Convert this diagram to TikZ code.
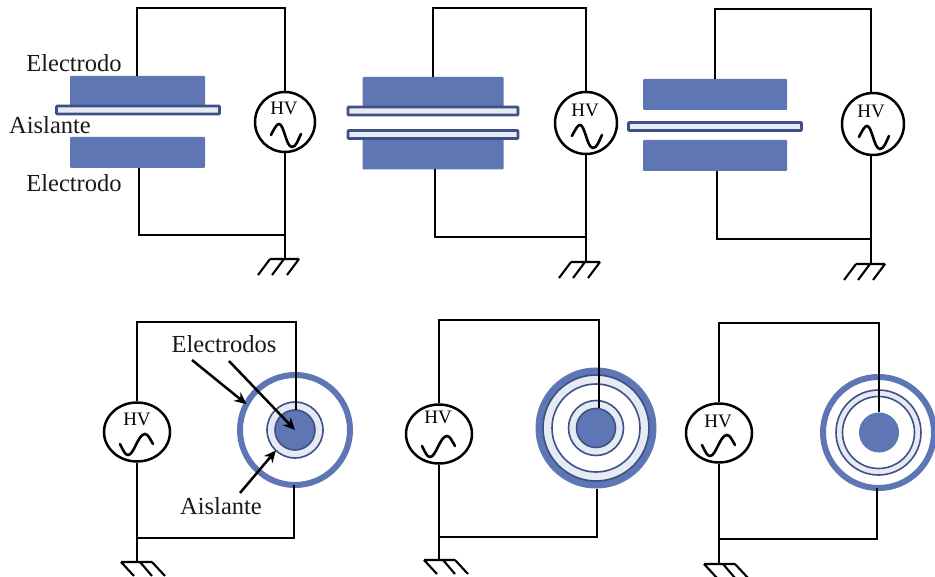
\documentclass[tikz,border=0pt]{standalone}
\usepackage{fontspec}
\setmainfont{Liberation Serif}
\usetikzlibrary{shapes.geometric,arrows.meta,calc}
\definecolor{elecblue}{HTML}{5F76B5}
\definecolor{insedge}{HTML}{3F5088}
\definecolor{insfill}{HTML}{E6EAF2}
\tikzset{
  wire/.style={draw=black,line width=2.1pt},
  elec/.style={rectangle,rounded corners=1pt,fill=elecblue,inner sep=0pt,outer sep=0pt},
  ins/.style={rectangle,draw=insedge,fill=insfill,line width=2.6pt,rounded corners=0.6pt,inner sep=0pt,outer sep=0pt},
  hvround/.style={circle,draw=black,fill=white,line width=2.5pt,minimum size=60pt,inner sep=0pt},
  hvoval/.style={ellipse,draw=black,fill=white,line width=2.5pt,minimum width=66pt,minimum height=59pt,inner sep=0pt},
  hvtext/.style={font=\fontsize{19}{20}\selectfont,inner sep=0pt},
  lab/.style={font=\fontsize{24.5}{28}\selectfont,inner sep=0pt,text=black!90},
  disc/.style={circle,inner sep=0pt,outer sep=0pt},
  ringblue/.style={disc,draw=elecblue,line width=6pt},
  ringfull/.style={disc,fill=elecblue},
  ringins/.style={disc,draw=insedge,fill=insfill,line width=1.6pt},
  ringwhite/.style={disc,draw=insedge,fill=white,line width=1.6pt},
  corea/.style={disc,fill=elecblue,draw=insedge,line width=1.6pt},
  coreb/.style={disc,fill=elecblue},
  pointer/.style={draw=black,line width=2.5pt,-{Stealth[length=12pt,width=11pt]}},
  waveup/.pic={\draw[black,line width=2.6pt,line cap=round] (-14,13) .. controls (-10,5) and (-8,2) .. (-6,2) .. controls (-1,2) and (1,25) .. (7,25) .. controls (11,25) and (13,18) .. (16,12);},
  wavedown/.pic={\draw[black,line width=2.6pt,line cap=round] (-17,12) .. controls (-14,18) and (-12,23) .. (-9,23) .. controls (-3,23) and (1,2) .. (8,2) .. controls (11,2) and (13,7) .. (16,12);},
  earthright/.pic={\draw[wire] (-15,0) -- (14,0) (-15,0) -- (-27,16) (-1,0) -- (-13,16) (14,0) -- (2,16);},
  earthleft/.pic={\draw[wire] (-15,0) -- (16,0) (-15,0) -- (-2,14) (4,0) -- (16,14) (16,0) -- (29,14);},
}
\begin{document}
\begin{tikzpicture}[x=1pt,y=-1pt]
\useasboundingbox (0,0) rectangle (935,577);
% Panel 1
\node[elec,minimum width=135pt,minimum height=31pt] (e1a) at (137.5,91.5) {};
\node[elec,minimum width=135pt,minimum height=31pt] (e1b) at (137.5,152.5) {};
\node[ins,minimum width=163pt,minimum height=8pt] (i1) at (138,110) {};
\node[hvround] (s1) at (285,122) {};
\node[hvtext] (t1) at (284,108) {HV};
\pic at (285,122) {waveup};
\coordinate (c1t) at (137,8);
\coordinate (c1b) at (139,235);
\coordinate (g1) at (285,259);
\draw[wire] (e1a.north -| c1t) -- (c1t) -- (c1t -| s1) -- (s1.north);
\draw[wire] (e1b.south -| c1b) -- (c1b) -- (c1b -| s1);
\draw[wire] (s1.south) -- (g1);
\pic at (g1) {earthright};
\node[lab] (l1) at (74,63) {Electrodo};
\node[lab] (l2) at (50,125) {Aislante};
\node[lab] (l3) at (74,183) {Electrodo};
% Panel 2
\node[elec,minimum width=141pt,minimum height=31pt] (e2a) at (433,92.5) {};
\node[elec,minimum width=141pt,minimum height=31pt] (e2b) at (433,154) {};
\node[ins,minimum width=170pt,minimum height=8pt] (i2a) at (433,111) {};
\node[ins,minimum width=170pt,minimum height=8pt] (i2b) at (433,134.5) {};
\node[hvround,minimum size=62pt] (s2) at (586,123) {};
\node[hvtext] (t2) at (585,110) {HV};
\pic at (586,123) {waveup};
\coordinate (c2t) at (433,8);
\coordinate (c2b) at (435,237);
\coordinate (g2) at (586,262);
\draw[wire] (e2a.north -| c2t) -- (c2t) -- (c2t -| s2) -- (s2.north);
\draw[wire] (e2b.south -| c2b) -- (c2b) -- (c2b -| s2);
\draw[wire] (s2.south) -- (g2);
\pic at (g2) {earthright};
% Panel 3
\node[elec,minimum width=144pt,minimum height=31pt] (e3a) at (715,94.5) {};
\node[elec,minimum width=144pt,minimum height=31pt] (e3b) at (715,155.5) {};
\node[ins,minimum width=173pt,minimum height=8pt] (i3) at (715,126.5) {};
\node[hvround,minimum size=62pt] (s3) at (873,124) {};
\node[hvtext] (t3) at (871,111) {HV};
\pic at (873,124) {waveup};
\coordinate (c3t) at (715,9);
\coordinate (c3b) at (717,239);
\coordinate (g3) at (871,264);
\coordinate (h3) at (871,124);
\draw[wire] (e3a.north -| c3t) -- (c3t) -- (c3t -| h3) -- (h3 |- s3.north);
\draw[wire] (e3b.south -| c3b) -- (c3b) -- (c3b -| h3) -- (h3 |- s3.south);
\draw[wire] (h3 |- s3.south) -- (g3);
\pic at (g3) {earthright};
% Panel 4
\node[ringblue,minimum size=110pt] (r4o) at (295,430) {};
\node[ringins,minimum size=56pt] (r4i) at (295,430) {};
\node[corea,minimum size=40pt] (r4c) at (295,430) {};
\node[hvoval] (s4) at (137,432) {};
\node[hvtext] (t4) at (137,419) {HV};
\pic at (137,432) {wavedown};
\coordinate (c4t) at (296,322);
\coordinate (c4b) at (294,538);
\coordinate (g4) at (136,562);
\draw[wire] (s4.north) -- (s4.north |- c4t) -- (c4t) -- (c4t |- r4c.north);
\draw[wire] (c4b |- r4o.south) -- (c4b) -- (c4b -| s4);
\draw[wire] (s4.south) -- (s4.south |- g4);
\pic at (g4) {earthleft};
\node[lab] (l4) at (224,344) {Electrodos};
\node[lab] (l5) at (221,506) {Aislante};
\coordinate (a1s) at (192,360);
\coordinate (a2s) at (229,361);
\coordinate (a3s) at (240,493);
\draw[pointer] (a1s) -- (r4o.152);
\draw[pointer] (a2s) -- (r4c.center);
\draw[pointer] (a3s) -- (r4i.-133);
% Panel 5
\node[ringfull,minimum size=121pt] (r5o) at (596,428) {};
\node[ringins,minimum size=106pt] (r5a) at (596,428) {};
\node[ringwhite,minimum size=88pt] (r5b) at (596,428) {};
\node[ringins,minimum size=55pt] (r5c) at (596,428) {};
\node[corea,minimum size=39pt] (r5d) at (596,428) {};
\node[hvoval] (s5) at (439,434) {};
\node[hvtext] (t5) at (438,417) {HV};
\pic at (439,434) {wavedown};
\coordinate (c5t) at (599,320);
\coordinate (c5b) at (597,537);
\coordinate (g5) at (439,560);
\draw[wire] (s5.north) -- (s5.north |- c5t) -- (c5t) -- (c5t |- r5d.north);
\draw[wire] (c5b |- r5o.south) -- (c5b) -- (c5b -| s5);
\draw[wire] (s5.south) -- (s5.south |- g5);
\pic at (g5) {earthleft};
% Panel 6
\node[ringblue,minimum size=111pt] (r6o) at (878.5,432.5) {};
\node[ringins,minimum size=85pt] (r6a) at (878.5,432.5) {};
\node[ringwhite,minimum size=72pt] (r6b) at (878.5,432.5) {};
\node[coreb,minimum size=40pt] (r6c) at (879,432.5) {};
\node[hvoval] (s6) at (719,433) {};
\node[hvtext] (t6) at (718,421) {HV};
\pic at (719,433) {wavedown};
\coordinate (c6t) at (719,323);
\coordinate (c6r) at (879,323);
\coordinate (c6b) at (877,539);
\coordinate (g6) at (719,564);
\draw[wire] (s6.north) -- (c6t) -- (c6r) -- (c6r |- r6c.north);
\draw[wire] (c6b |- r6o.south) -- (c6b) -- (c6b -| s6);
\draw[wire] (s6.south) -- (g6);
\pic at (g6) {earthleft};
\end{tikzpicture}
\end{document}
